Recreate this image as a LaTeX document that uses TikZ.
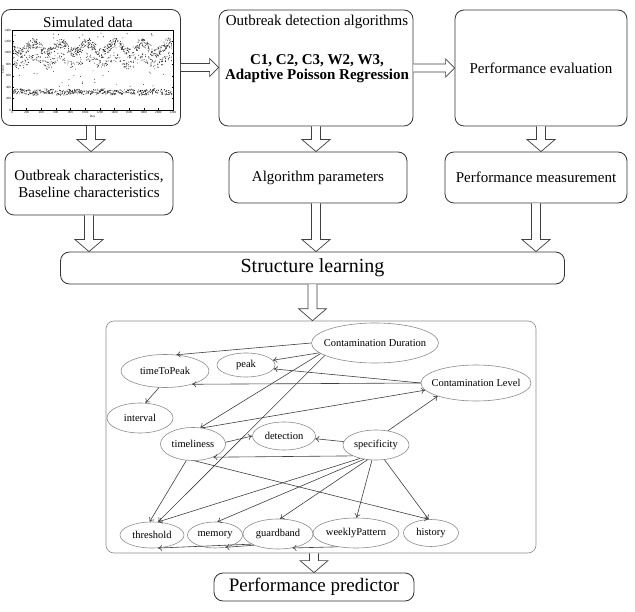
\documentclass[tikz,border=0pt]{standalone}
\usepackage{fontspec}
\setmainfont{Liberation Serif}
\usetikzlibrary{shapes.geometric,arrows.meta,calc}

% hollow block arrow pointing down, from the bottom of #1 to the top of #2, at the x of #3
\newcommand{\vblock}[3]{%
  \draw[blockarrow] let \p1=(#1.south), \p2=(#2.north), \p3=(#3.center) in
    (\x3-4.5pt,\y1) -- (\x3-4.5pt,\y2+12pt) -- (\x3-14pt,\y2+12pt) -- (\x3,\y2)
    -- (\x3+14pt,\y2+12pt) -- (\x3+4.5pt,\y2+12pt) -- (\x3+4.5pt,\y1);}
% hollow block arrow pointing right, from #1 to #2
\newcommand{\hblock}[2]{%
  \draw[blockarrow] let \p1=(#1.east), \p2=(#2.west) in
    (\x1,\y1+4pt) -- (\x2-9pt,\y1+4pt) -- (\x2-9pt,\y1+9pt) -- (\x2,\y1)
    -- (\x2-9pt,\y1-9pt) -- (\x2-9pt,\y1-4pt) -- (\x1,\y1-4pt);}
% label that does not widen its ellipse
\newcommand{\ovtext}[1]{\makebox[0pt]{#1}}

\begin{document}
\begin{tikzpicture}[x=1pt,y=-1pt,
  box/.style 2 args={draw=black!80, line width=0.8pt, rounded corners=9pt,
    minimum width=#1, minimum height=#2, inner sep=0pt, align=center,
    font=\fontsize{15}{17}\selectfont},
  txt/.style={inner sep=0pt, align=center, font=\fontsize{15}{17}\selectfont},
  blockarrow/.style={draw=black!75, line width=0.7pt, fill=white},
  ell/.style 2 args={ellipse, draw=black!45, line width=0.6pt,
    minimum width=#1, minimum height=#2, inner sep=0pt,
    font=\fontsize{10.5}{12}\selectfont},
  edge/.style={draw=black!75, line width=0.6pt, -{To[length=4pt,width=6pt]}},
  dot/.style={fill=black!85},
  tick/.style={font=\fontsize{3.2}{3.5}\selectfont, inner sep=0pt}]

\fill[white] (0,0) rectangle (635,612);
\useasboundingbox (0,0) rectangle (635,612);

% ---------- top row ----------
\node[box={179pt}{116pt}] (sim) at (91,67.5) {};
\node[txt] (simtitle) at (88,22) {Simulated data};

\node[box={194pt}{116pt}] (algo) at (316,68) {};
\node[txt] (algotitle) at (317,22) {Outbreak detection algorithms};
\node[txt, font=\fontsize{15}{15}\selectfont\bfseries] (algolist) at (317,69)
  {C1, C2, C3, W2, W3,\\Adaptive Poisson Regression};

\node[box={172pt}{116pt}] (eval) at (541,68) {Performance evaluation};

% ---------- middle row ----------
\node[box={168pt}{63pt}] (outchar) at (89,183.5)
  {Outbreak characteristics,\\Baseline characteristics};
\node[box={178pt}{51pt}] (params) at (318,177.5) {Algorithm parameters};
\node[box={182pt}{51pt}] (measure) at (536,177.5) {Performance measurement};

% ---------- learning and prediction ----------
\node[box={504pt}{32pt}, font=\fontsize{20}{22}\selectfont] (learn) at (312.5,268) {Structure learning};
\node[draw=black!45, line width=0.6pt, rounded corners=8pt,
  minimum width=430pt, minimum height=232pt, inner sep=0pt] (net) at (321,437) {};
\node[box={200pt}{28pt}, font=\fontsize{19}{21}\selectfont] (pred) at (314,587) {Performance predictor};

% ---------- block arrows ----------
\hblock{sim}{algo}
\hblock{algo}{eval}
\vblock{sim}{outchar}{sim}
\vblock{algo}{params}{algo}
\vblock{eval}{measure}{eval}
\vblock{outchar}{learn}{outchar}
\vblock{params}{learn}{algo}
\vblock{measure}{learn}{measure}
\vblock{learn}{net}{learn}
\vblock{net}{pred}{pred}

% ---------- simulated counts plot ----------
\draw[line width=0.4pt] (12,30) rectangle (173,110);
\foreach \i/\lab in {0/0,1/200,2/400,3/600,4/800,5/1000,6/1200,7/1400,8/1600,9/1800,10/2000,11/2200}{
  \pgfmathsetmacro\tx{12+\i*14.636}
  \draw[line width=0.3pt] (\tx,110) -- (\tx,108.5);
  \draw[line width=0.3pt] (\tx,30) -- (\tx,31.5);
  \node[tick] at (\tx,112.8) {\lab};
}
\foreach \i/\lab in {0/0,1/200,2/400,3/600,4/800,5/1000,6/1200,7/1400}{
  \pgfmathsetmacro\ty{110-\i*11.43}
  \draw[line width=0.3pt] (12,\ty) -- (13.5,\ty);
  \draw[line width=0.3pt] (173,\ty) -- (171.5,\ty);
  \node[tick, anchor=east] at (11,\ty) {\lab};
}
\node[tick] (daylabel) at (92.5,116.5) {Day};
\node[tick, rotate=90] (countlabel) at (2.8,70) {Count};

\pgfmathsetseed{20}
% weekday counts, seasonal
\foreach \k in {1,...,700}{
  \pgfmathsetmacro\px{13+159*rnd}
  \pgfmathsetmacro\py{48-5*sin(13.3*\px)+5*rand}
  \fill[dot] (\px,\py) circle (0.48);
}
% lower weekday counts
\foreach \k in {1,...,320}{
  \pgfmathsetmacro\px{13+159*rnd}
  \pgfmathsetmacro\py{61-4*sin(13.3*\px)+4.5*rand}
  \fill[dot] (\px,\py) circle (0.48);
}
% weekend counts
\foreach \k in {1,...,520}{
  \pgfmathsetmacro\px{13+159*rnd}
  \pgfmathsetmacro\py{92+2.6*rand+0.8*sin(13.3*\px)}
  \fill[dot] (\px,\py) circle (0.48);
}
% scattered values
\foreach \k in {1,...,24}{
  \pgfmathsetmacro\px{13+159*rnd}
  \pgfmathsetmacro\py{70+17*rnd}
  \fill[dot] (\px,\py) circle (0.48);
}
\foreach \k in {1,...,14}{
  \pgfmathsetmacro\px{13+159*rnd}
  \pgfmathsetmacro\py{33+5*rnd}
  \fill[dot] (\px,\py) circle (0.48);
}

% ---------- network ----------
\node[ell={127pt}{40pt}] (cd) at (375,343) {\ovtext{Contamination Duration}};
\node[ell={110pt}{36pt}] (cl) at (476,383) {\ovtext{Contamination Level}};
\node[ell={88pt}{33pt}] (ttp) at (165,371) {\ovtext{timeToPeak}};
\node[ell={58pt}{24pt}] (peak) at (246,365) {\ovtext{peak}};
\node[ell={66pt}{30pt}] (interval) at (140,418) {\ovtext{interval}};
\node[ell={65pt}{33pt}] (tl) at (193,444) {\ovtext{timeliness}};
\node[ell={63pt}{28pt}] (det) at (284,436) {\ovtext{detection}};
\node[ell={66pt}{30pt}] (spec) at (376,445) {\ovtext{specificity}};
\node[ell={64pt}{26pt}] (thr) at (152,535) {\ovtext{threshold}};
\node[ell={55pt}{26pt}] (mem) at (215,535) {\ovtext{memory}};
\node[ell={70pt}{30pt}] (gb) at (278,534) {\ovtext{guardband}};
\node[ell={86pt}{30pt}] (wp) at (356,533) {\ovtext{weeklyPattern}};
\node[ell={55pt}{27pt}] (hist) at (431,533) {\ovtext{history}};

\draw[edge] (cd.180) -- (ttp.55);
\draw[edge] (cd.190) -- (peak.10);
\draw[edge] (cl.180) -- (peak.-8);
\draw[edge] (cl.180) -- (ttp.-26);
\draw[edge] (ttp.-110) -- (interval.70);
\draw[edge] (cd.191) -- (tl.66);
\draw[edge] (cd.194) -- (thr.65);
\draw[edge] (tl.60) -- (cl.188);
\draw[edge] (tl.3) -- (det.180);
\draw[edge] (spec.174) -- (det.-5);
\draw[edge] (spec.205) -- (tl.-33);
\draw[edge] (spec.50) -- (cl.199);
\draw[edge] (tl.248) -- (thr.100);
\draw[edge] (spec.220) -- (thr.65);
\draw[edge] (spec.230) -- (mem.80);
\draw[edge] (spec.240) -- (gb.82);
\draw[edge] (spec.255) -- (wp.88);
\draw[edge] (spec.300) -- (hist.100);
\draw[edge] (tl.275) -- (hist.100);
\draw[edge] (gb.201) -- (thr.-65);
\draw[edge] (gb.205) -- (mem.-50);
\draw[edge] (wp.217) -- (gb.-44);

\end{tikzpicture}
\end{document}
